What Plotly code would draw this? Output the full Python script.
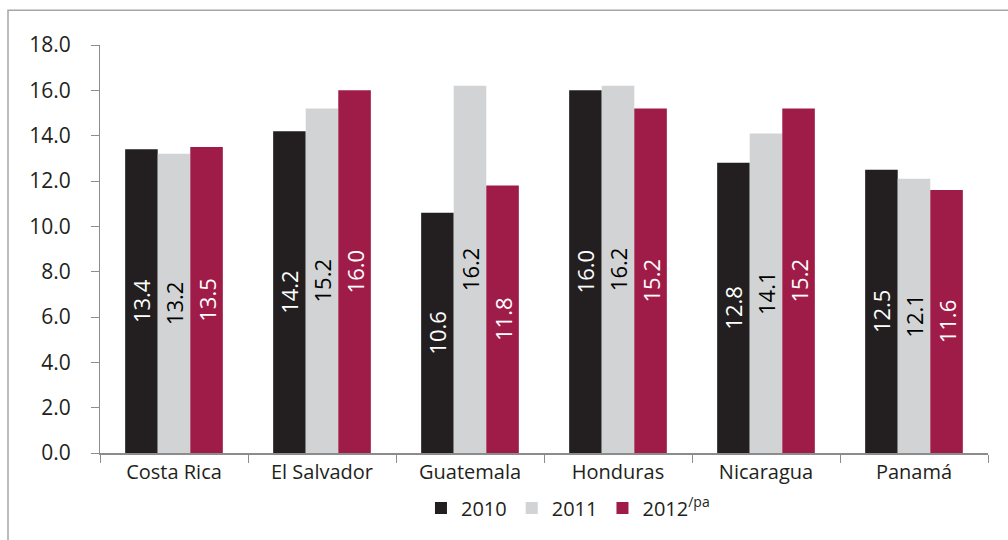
import plotly.graph_objects as go

countries = ["Costa Rica", "El Salvador", "Guatemala", "Honduras", "Nicaragua", "Panamá"]
years = ["2010", "2011", "2012<sup>/pa</sup>"]
v2010 = [13.4, 14.2, 10.6, 16.0, 12.8, 12.5]
v2011 = [13.2, 15.2, 16.2, 16.2, 14.1, 12.1]
v2012 = [13.5, 16.0, 11.8, 15.2, 15.2, 11.6]
y_ticks = [0, 2, 4, 6, 8, 10, 12, 14, 16, 18]

series = [v2010, v2011, v2012]
colors = ["#231F20", "#D1D3D4", "#A01C48"]
text_colors = ["white", "black", "white"]

fig = go.Figure()
for name, vals, col, tcol in zip(years, series, colors, text_colors):
    fig.add_trace(go.Bar(
        x=countries, y=vals, name=name,
        marker=dict(color=col, line=dict(width=0)),
        text=[f"{v:.1f}" for v in vals],
        textposition="inside", insidetextanchor="middle",
        textangle=-90, constraintext="none",
        textfont=dict(family="Open Sans", size=22, color=tcol),
        cliponaxis=False,
    ))

fig.update_layout(
    width=1008, height=540,
    margin=dict(l=100, r=20, t=45, b=85),
    paper_bgcolor="white", plot_bgcolor="white",
    barmode="group", bargap=0.34, bargroupgap=0,
    font=dict(family="Open Sans", color="#231F20"),
    showlegend=True,
    legend=dict(
        orientation="h", x=0.527, xanchor="center", y=-0.135, yanchor="middle",
        font=dict(size=20, color="#231F20"),
        itemwidth=30, traceorder="normal",
    ),
    xaxis=dict(
        showline=True, linecolor="#8C8C8C", linewidth=2,
        ticks="outside", tickson="boundaries", ticklen=8, tickcolor="#8C8C8C",
        tickfont=dict(size=20), showgrid=False,
    ),
    yaxis=dict(
        range=[0, 18], tickvals=y_ticks,
        ticktext=[f"{t:.1f}" for t in y_ticks],
        showline=True, linecolor="#8C8C8C", linewidth=1,
        ticks="outside", ticklen=8, tickcolor="#8C8C8C",
        ticklabelstandoff=16,
        tickfont=dict(size=21), showgrid=False, zeroline=False,
    ),
    shapes=[dict(
        type="rect", xref="paper", yref="paper",
        x0=-92 / 888, x1=1 + 40 / 888, y0=-100 / 410, y1=1 + 35 / 410,
        line=dict(color="#A6A6A6", width=1.5), fillcolor="rgba(0,0,0,0)",
    )],
)

fig.write_html("out.html")
